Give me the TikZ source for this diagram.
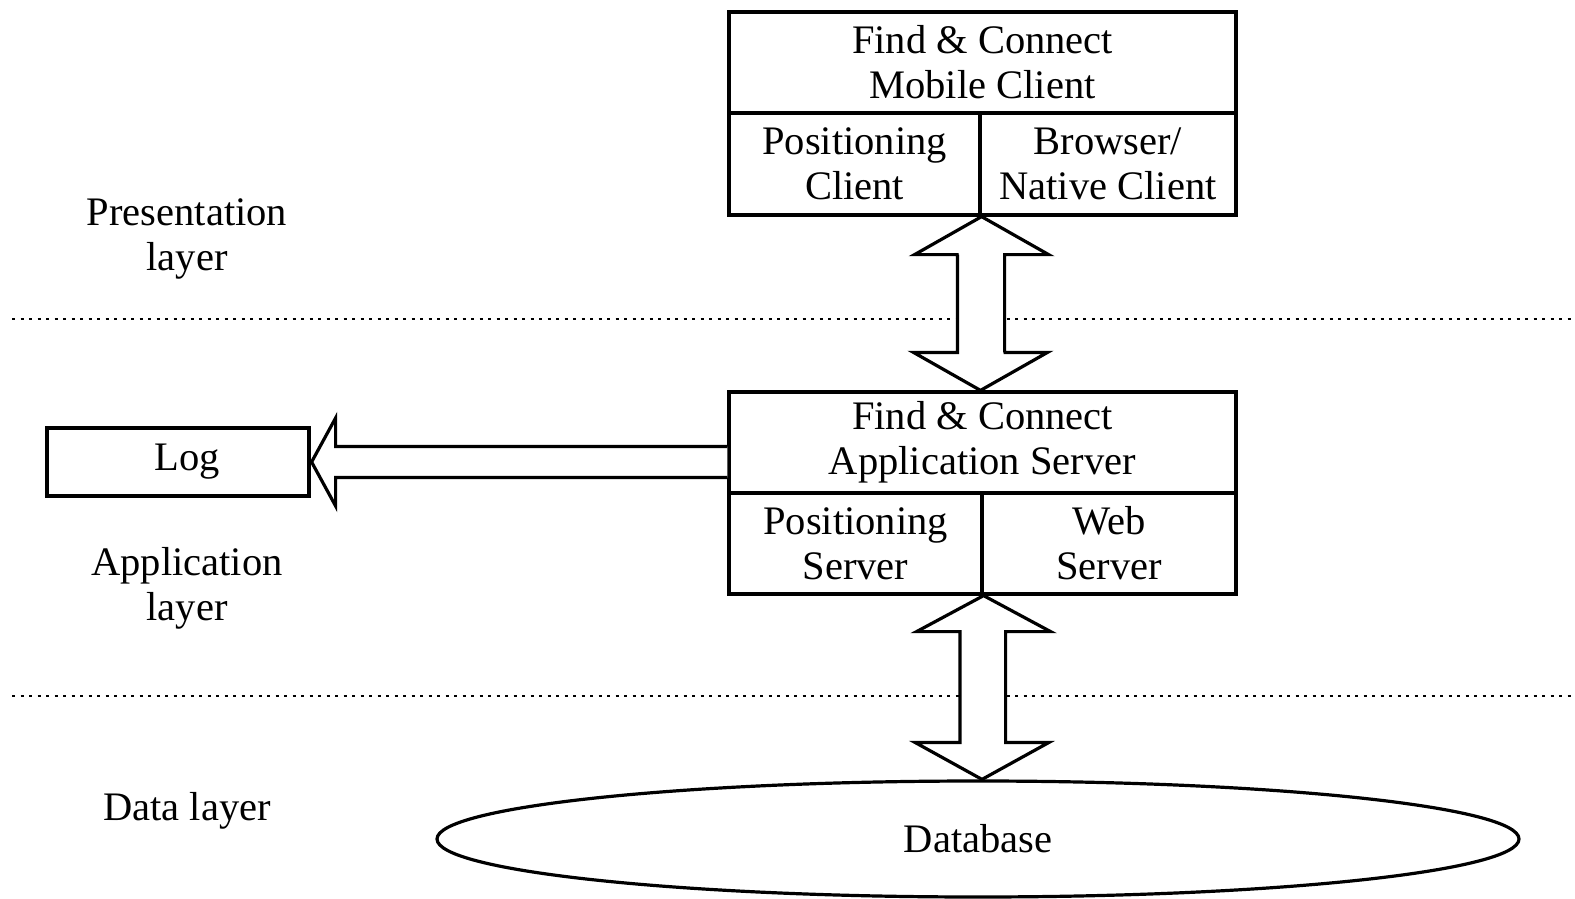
\documentclass[tikz,border=0pt]{standalone}
\usepackage{fontspec}
\setmainfont{Liberation Serif}
\usetikzlibrary{shapes.geometric,calc}
\begin{document}
\begin{tikzpicture}[x=1pt,y=-1pt,
  box/.style={draw, line width=3.2pt, rectangle, inner sep=0pt, align=center, fill=white},
  txt/.style={inner sep=0pt, align=center},
  blockarrow/.style={draw, line width=3.2pt, fill=white, line join=miter},
  sep/.style={line width=2.6pt, dash pattern=on 3pt off 5.5pt},
  every node/.style={font=\fontsize{40.5}{45}\selectfont}]
\useasboundingbox (0,0) rectangle (1575,899);
% layer separators
\coordinate (s1l) at (12,319); \coordinate (s1r) at (1575,319);
\coordinate (s2l) at (12,696); \coordinate (s2r) at (1575,696);
\draw[sep] (s1l) -- (s1r);
\draw[sep] (s2l) -- (s2r);
% layer labels
\node[txt] (lp) at (187,239) {Presentation\\layer};
\node[txt] (la) at (187,588) {Application\\layer};
\node[txt] (ld) at (187,811) {Data layer};
% presentation tier
\node[box, minimum width=507pt, minimum height=101pt] (mc) at (982.5,62.5) {Find \& Connect\\Mobile Client};
\node[box, minimum width=251pt, minimum height=102pt] (pc) at (854.5,164) {Positioning\\Client};
\node[box, minimum width=256pt, minimum height=102pt] (bc) at (1108,164) {Browser/\\Native Client};
% application tier
\node[box, minimum width=507pt, minimum height=101pt] (as) at (982.5,442.5) {Find \& Connect\\Application Server};
\node[box, minimum width=253pt, minimum height=101pt] (ps) at (855.5,543.5) {Positioning\\Server};
\node[box, minimum width=254pt, minimum height=101pt] (ws) at (1109,543.5) {Web\\Server};
\node[box, minimum width=262pt, minimum height=68pt] (log) at (178,462) {\hspace*{18pt}Log};
% data tier
\node[draw, ellipse, line width=3.2pt, minimum width=1082pt, minimum height=116pt, inner sep=0pt] (db) at (978,839) {Database};
% double block arrow: client <-> server
\coordinate (t1) at ($(pc.south east)$);
\coordinate (b1) at ($(as.north)+(-2,0)$);
\draw[blockarrow] (t1) -- ++(67,38) -- ++(-44,0) |- ($(b1)+(23,-38)$) -- ++(44,0) -- (b1)
  -- ++(-67,-38) -- ++(44,0) |- ($(t1)+(-23,38)$) -- ++(-44,0) -- cycle;
% double block arrow: server <-> database
\coordinate (t2) at ($(ps.south east)$);
\coordinate (b2) at ($(db.north)+(4,0)$);
\draw[blockarrow] (t2) -- ++(67,36) -- ++(-45,0) |- ($(b2)+(22,-37)$) -- ++(45,0) -- (b2)
  -- ++(-67,-37) -- ++(45,0) |- ($(t2)+(-22,36)$) -- ++(-45,0) -- cycle;
% block arrow: server -> log
\coordinate (a1) at (as.west |- log.east);
\draw[blockarrow] ($(a1)+(0,-15.5)$) -- ($(log.east)+(25,-15.5)$) -- ++(0,-28.5) -- ($(log.east)+(1,0)$)
  -- ($(log.east)+(25,44)$) -- ++(0,-28.5) -- ($(a1)+(0,15.5)$);
\end{tikzpicture}
\end{document}
